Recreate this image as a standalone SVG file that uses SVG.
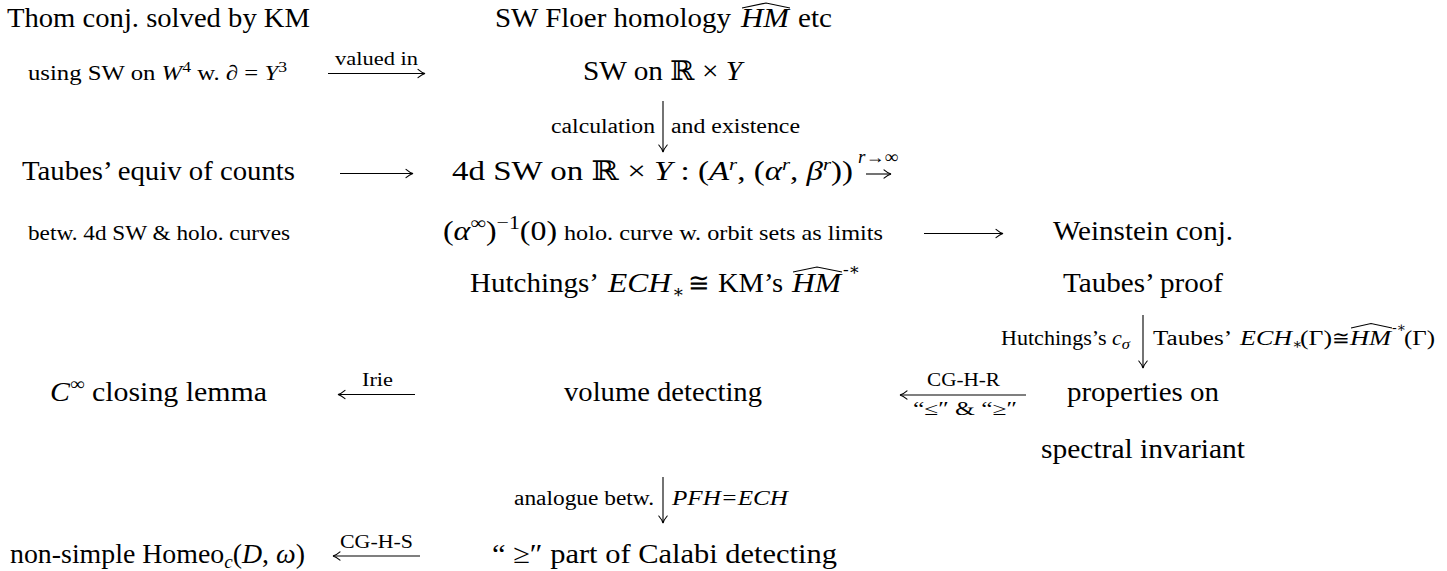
<svg xmlns="http://www.w3.org/2000/svg" width="1447" height="571" viewBox="0 0 1447 571">
<style>
.t{font-family:"Liberation Serif","Times New Roman","DejaVu Serif",serif;fill:#000}
.m{font-size:27px}
.s{font-size:21px}
.l{font-size:18px}
.i{font-style:italic}
.hat{fill:none;stroke:#000;stroke-width:1.1;stroke-linejoin:miter}
.arr{fill:none;stroke:#000;stroke-width:1.1;marker-end:url(#ah)}
</style>
<defs>
<marker id="ah" viewBox="-10 -6 12 12" markerWidth="12" markerHeight="12" refX="0" refY="0" orient="auto" markerUnits="userSpaceOnUse">
<path d="M-7,-4.2 C-4,-1.6 -1.6,-0.4 0,0 C-1.6,0.4 -4,1.6 -7,4.2" fill="none" stroke="#000" stroke-width="1.1" stroke-linecap="round"/>
</marker>
</defs>
<rect width="1447" height="571" fill="#fff"/>

<g id="thom"><text class="t m" x="7" y="27" textLength="303" lengthAdjust="spacingAndGlyphs">Thom conj. solved by KM</text></g>

<g id="swfloer">
<text class="t m" x="495" y="27" textLength="236" lengthAdjust="spacingAndGlyphs">SW Floer homology</text>
<text class="t m i" x="741" y="27" textLength="48" lengthAdjust="spacingAndGlyphs">HM</text>
<path class="hat" d="M742,8 L766,3 L790,8"/>
<text class="t m" x="798" y="27" textLength="34" lengthAdjust="spacingAndGlyphs">etc</text>
</g>

<g id="usingsw"><text class="t s" x="28" y="80" textLength="259" lengthAdjust="spacingAndGlyphs">using SW on <tspan class="i">W</tspan><tspan dy="-8" font-size="15">4</tspan><tspan dy="8"> w. </tspan><tspan class="i">∂</tspan> = <tspan class="i">Y</tspan><tspan dy="-8" font-size="15">3</tspan></text></g>

<g id="swR"><text class="t m" x="583" y="80" textLength="159" lengthAdjust="spacingAndGlyphs">SW on ℝ × <tspan class="i">Y</tspan></text></g>

<g id="taubesequiv"><text class="t m" x="22" y="180" textLength="273" lengthAdjust="spacingAndGlyphs">Taubes’ equiv of counts</text></g>

<g id="sw4d">
<text class="t m" x="452" y="180" textLength="401" lengthAdjust="spacingAndGlyphs">4d SW on ℝ × <tspan class="i">Y</tspan> : (<tspan class="i">A</tspan><tspan dy="-10" font-size="17" class="i">r</tspan><tspan dy="10">, (</tspan><tspan class="i">α</tspan><tspan dy="-10" font-size="17" class="i">r</tspan><tspan dy="10">, </tspan><tspan class="i">β</tspan><tspan dy="-10" font-size="17" class="i">r</tspan><tspan dy="10">))</tspan></text>
<text class="t" font-size="18" x="858" y="163" textLength="40" lengthAdjust="spacingAndGlyphs"><tspan class="i">r</tspan>→∞</text>
<path class="arr" d="M866,174 H891"/>
</g>

<g id="betw"><text class="t s" x="28" y="240" textLength="262" lengthAdjust="spacingAndGlyphs">betw. 4d SW &amp; holo. curves</text></g>

<g id="alphainf">
<text class="t m" x="443" y="240" textLength="114" lengthAdjust="spacingAndGlyphs">(<tspan class="i">α</tspan><tspan dy="-11" font-size="18.5">∞</tspan><tspan dy="11">)</tspan><tspan dy="-11" font-size="18.5">−1</tspan><tspan dy="11">(0)</tspan></text>
<text class="t s" x="564" y="240" textLength="319" lengthAdjust="spacingAndGlyphs">holo. curve w. orbit sets as limits</text>
</g>

<g id="weinstein"><text class="t m" x="1053" y="240" textLength="180" lengthAdjust="spacingAndGlyphs">Weinstein conj.</text></g>

<g id="hutchings">
<text class="t m" x="470" y="292" textLength="129" lengthAdjust="spacingAndGlyphs">Hutchings’</text>
<text class="t m i" x="608" y="292" textLength="63" lengthAdjust="spacingAndGlyphs">ECH</text>
<text class="t l" x="672" y="298">∗</text>
<text class="t m" x="688" y="292" textLength="22" lengthAdjust="spacingAndGlyphs">≅</text>
<text class="t m" x="718" y="292" textLength="65" lengthAdjust="spacingAndGlyphs">KM’s</text>
<text class="t m i" x="792" y="292" textLength="49" lengthAdjust="spacingAndGlyphs">HM</text>
<path class="hat" d="M793,272 L817,267 L842,272"/>
<text class="t" x="843" y="275" font-size="17">-∗</text>
</g>

<g id="taubesproof"><text class="t m" x="1063" y="292" textLength="160" lengthAdjust="spacingAndGlyphs">Taubes’ proof</text></g>

<g id="closing"><text class="t m" x="50" y="401" textLength="217" lengthAdjust="spacingAndGlyphs"><tspan class="i">C</tspan><tspan dy="-11" font-size="18.5">∞</tspan><tspan dy="11"> closing lemma</tspan></text></g>

<g id="volume"><text class="t m" x="564" y="401" textLength="198" lengthAdjust="spacingAndGlyphs">volume detecting</text></g>

<g id="properties">
<text class="t m" x="1067" y="401" textLength="152" lengthAdjust="spacingAndGlyphs">properties on</text>
<text class="t m" x="1041" y="458" textLength="204" lengthAdjust="spacingAndGlyphs">spectral invariant</text>
</g>

<g id="nonsimple"><text class="t m" x="10" y="563" textLength="295" lengthAdjust="spacingAndGlyphs">non-simple Homeo<tspan dy="5" font-size="18.5" class="i">c</tspan><tspan dy="-5">(</tspan><tspan class="i">D</tspan>, <tspan class="i">ω</tspan>)</text></g>

<g id="calabi"><text class="t m" x="492" y="563" textLength="345" lengthAdjust="spacingAndGlyphs">“ ≥″  part of Calabi detecting</text></g>

<g id="connectors">
<path class="arr" d="M328,73.5 H425"/>
<text class="t l" x="335" y="65" textLength="83" lengthAdjust="spacingAndGlyphs">valued in</text>

<path class="arr" d="M663,101 V152"/>
<text class="t" font-size="20" x="551" y="133" textLength="104" lengthAdjust="spacingAndGlyphs">calculation</text>
<text class="t" font-size="20" x="671" y="133" textLength="129" lengthAdjust="spacingAndGlyphs">and existence</text>

<path class="arr" d="M340,173.5 H413"/>
<path class="arr" d="M924,233.5 H1003"/>

<path class="arr" d="M1143,315 V368"/>
<text class="t" font-size="20" x="1001" y="345" textLength="129" lengthAdjust="spacingAndGlyphs">Hutchings’s <tspan class="i">c</tspan><tspan dy="4" font-size="15" class="i">σ</tspan></text>
<text class="t" font-size="20" x="1153" y="345" textLength="79" lengthAdjust="spacingAndGlyphs">Taubes’</text>
<text class="t i" font-size="20" x="1240" y="345" textLength="52" lengthAdjust="spacingAndGlyphs">ECH</text>
<text class="t" font-size="15" x="1292" y="349">∗</text>
<text class="t" font-size="20" x="1300" y="345" textLength="32" lengthAdjust="spacingAndGlyphs">(Γ)</text>
<text class="t" font-size="20" x="1332" y="345" textLength="18" lengthAdjust="spacingAndGlyphs">≅</text>
<text class="t i" font-size="20" x="1350" y="345" textLength="41" lengthAdjust="spacingAndGlyphs">HM</text>
<path class="hat" d="M1351,328 L1371,323.5 L1392,328"/>
<text class="t" font-size="14" x="1392" y="332">-∗</text>
<text class="t" font-size="20" x="1404" y="345" textLength="31" lengthAdjust="spacingAndGlyphs">(Γ)</text>

<path class="arr" d="M415,394.5 H338"/>
<text class="t l" x="362" y="386" textLength="31" lengthAdjust="spacingAndGlyphs">Irie</text>

<path class="arr" d="M1026,395 H900"/>
<text class="t l" x="927" y="386" textLength="73" lengthAdjust="spacingAndGlyphs">CG-H-R</text>
<text class="t l" x="913" y="415" textLength="104" lengthAdjust="spacingAndGlyphs">“≤″ &amp; “≥″</text>

<path class="arr" d="M663,477 V523"/>
<text class="t" font-size="20" x="514" y="505" textLength="140" lengthAdjust="spacingAndGlyphs">analogue betw.</text>
<text class="t i" font-size="20" x="672" y="505" textLength="116" lengthAdjust="spacingAndGlyphs">PFH=ECH</text>

<path class="arr" d="M420,556 H333"/>
<text class="t l" x="340" y="548" textLength="73" lengthAdjust="spacingAndGlyphs">CG-H-S</text>
</g>
</svg>
